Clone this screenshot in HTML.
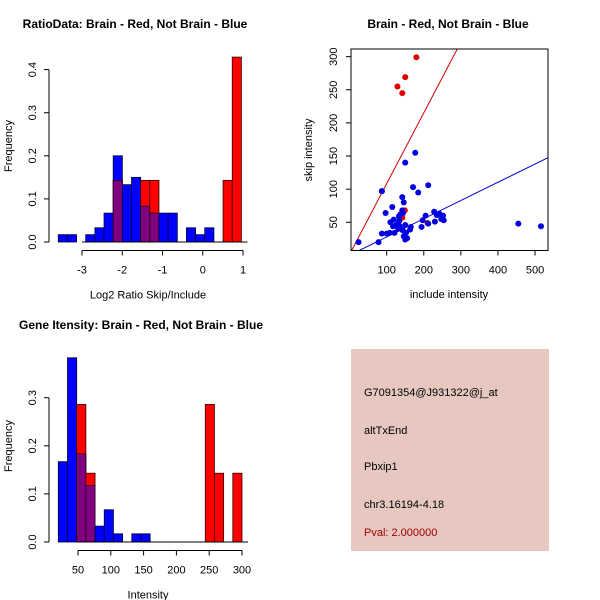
<!DOCTYPE html>
<html><head><meta charset="utf-8"><style>
body{margin:0;background:#fff}
svg{display:block;font-family:"Liberation Sans",sans-serif}
</style></head><body>
<svg id="svg" width="600" height="600" viewBox="0 0 600 600">
<rect width="600" height="600" fill="#fff"/>
<g id="p1"></g>
<g id="p2"></g>
<g id="p3"></g>
<g>
<rect x="351" y="349" width="198" height="202" fill="#e6c8c0"/>
<g font-size="11" fill="#000">
<text x="364" y="396">G7091354@J931322@j_at</text>
<text x="364" y="434">altTxEnd</text>
<text x="364" y="470">Pbxip1</text>
<text x="364" y="508">chr3.16194-4.18</text>
<text x="364" y="536" fill="#a00000">Pval: 2.000000</text>
</g></g>
</svg>
<script>
// ---- data: ratio histogram ----
const ratioBinStart = -3.59, ratioBinWidth = 0.2275;
const ratioBlue = [0.017,0.017,0,0.017,0.033,0.067,0.2,0.133,0.15,0.083,0.067,0.067,0.067,0,0.033,0.017,0.033,0,0,0];
const ratioRed  = [0,0,0,0,0,0,0.143,0,0,0.143,0.143,0,0,0,0,0,0,0,0.143,0.429];
const ratioXTicks = [-3,-2,-1,0,1];
const ratioYTicks = [0,0.1,0.2,0.3,0.4];
// ---- data: gene intensity histogram ----
const intBinStart = 20, intBinWidth = 14;
const intBlue = [0.167,0.383,0.183,0.117,0.033,0.067,0.017,0,0.017,0.017,0,0,0,0,0,0,0,0,0,0];
const intRed  = [0,0,0.286,0.143,0,0,0,0,0,0,0,0,0,0,0,0,0.286,0.143,0,0.143];
const intXTicks = [50,100,150,200,250,300];
const intYTicks = [0,0.1,0.2,0.3];
// ---- data: scatter ----
const redX = [180,150,129,142,149,142,210,87];
const redY = [299,269,255,245,68,57,49,97];
const blueX = [24,78,87,97,115,87,100,108,110,117,121,126,131,133,137,142,144,142,146,135,143,146,150,155,150,177,171,185,212,150,163,165,194,197,205,212,228,230,235,242,247,252,254,455,516,134,152,119];
const blueY = [20,20,97,64,73,33,33,34,50,44,34,46,40,59,62,68,64,88,80,44,38,29,24,26,140,155,103,95,106,46,39,43,43,53,60,48,66,51,61,63,55,60,53,48,44,52,34,54];
const redFit = [1.7,1.067];   // intercept, slope
const blueFit = [0.4,0.275];
const scXTicks = [100,200,300,400,500];
const scYTicks = [50,100,150,200,250,300];

const NS='http://www.w3.org/2000/svg';
function mk(parent,tag,attrs,text){const e=document.createElementNS(NS,tag);for(const k in attrs)e.setAttribute(k,attrs[k]);if(text!==undefined)e.textContent=text;parent.appendChild(e);return e;}

function hist(g,o){
  const sx=v=>o.x0px+(v-o.xv0)*o.xs, sy=v=>o.y0px-v*o.ys;
  const n=o.blue.length;
  for(let i=0;i<n;i++){
    const a=sx(o.bs+i*o.bw), b=sx(o.bs+(i+1)*o.bw);
    const bl=o.blue[i], rd=o.red[i], mn=Math.min(bl,rd);
    if(bl>0){const r=mk(g,'rect',{x:a,y:sy(bl),width:b-a,height:sy(0)-sy(bl),fill:'#0000ff',stroke:'#000033','stroke-width':0.8});
      
      }
    if(rd>0){const r=mk(g,'rect',{x:a,y:sy(rd),width:b-a,height:sy(0)-sy(rd),fill:'#ff0000',stroke:'#330000','stroke-width':0.8});
      
      }
    if(mn>0){const r=mk(g,'rect',{x:a,y:sy(mn),width:b-a,height:sy(0)-sy(mn),fill:'#800080',stroke:'#220022','stroke-width':0.8});
      
      }
  }
  mk(g,'line',{x1:o.x0px,x2:sx(o.bs+n*o.bw)+6,y1:sy(0),y2:sy(0),stroke:'#000'});
  const yt=o.yticks;
  mk(g,'line',{x1:o.yaxX,x2:o.yaxX,y1:sy(yt[0]),y2:sy(yt[yt.length-1]),stroke:'#000'});
  yt.forEach(v=>{mk(g,'line',{x1:o.yaxX-5,x2:o.yaxX,y1:sy(v),y2:sy(v),stroke:'#000'});
    const t=mk(g,'text',{x:o.yaxX-13,y:sy(v),'font-size':11,'text-anchor':'middle',transform:`rotate(-90 ${o.yaxX-13} ${sy(v)})`},v.toFixed(1));
    
    });
  const xt=o.xticks;
  mk(g,'line',{x1:sx(xt[0]),x2:sx(xt[xt.length-1]),y1:o.xaxY,y2:o.xaxY,stroke:'#000'});
  xt.forEach(v=>{mk(g,'line',{x1:sx(v),x2:sx(v),y1:o.xaxY,y2:o.xaxY+5,stroke:'#000'});
    const t=mk(g,'text',{x:sx(v),y:o.xaxY+23,'font-size':11,'text-anchor':'middle'},String(v));
    
    });
  const ti=mk(g,'text',{x:o.tx,y:o.ty,'font-size':12,'font-weight':'bold','text-anchor':'middle'},o.title);
  
  
  const xl=mk(g,'text',{x:o.xlx,y:o.xaxY+48,'font-size':11,'text-anchor':'middle'},o.xlab);
  
  
  const yl=mk(g,'text',{x:12,y:o.yly,'font-size':11,'text-anchor':'middle',transform:`rotate(-90 12 ${o.yly})`},'Frequency');
  
  
}

hist(document.getElementById('p1'),{x0px:82,xv0:-3,xs:40.25,y0px:242,ys:431,bs:ratioBinStart,bw:ratioBinWidth,
  blue:ratioBlue,red:ratioRed,yticks:ratioYTicks,xticks:ratioXTicks,yaxX:49,xaxY:250.5,
  title:'RatioData: Brain - Red, Not Brain - Blue',tx:135,ty:28,xlab:'Log2 Ratio Skip/Include',xlx:148,yly:146});
hist(document.getElementById('p3'),{x0px:78,xv0:50,xs:0.656,y0px:542,ys:481,bs:intBinStart,bw:intBinWidth,
  blue:intBlue,red:intRed,yticks:intYTicks,xticks:intXTicks,yaxX:49,xaxY:550.5,
  title:'Gene Itensity: Brain - Red, Not Brain - Blue',tx:141,ty:329,xlab:'Intensity',xlx:148,yly:446});

(function(){
  const g=document.getElementById('p2');
  const L=351,R=548,T=49,B=250.5;
  const sx=v=>386.7+(v-100)*0.3708, sy=v=>222.3-(v-50)*0.6627;
  const cp=mk(g,'clipPath',{id:'cl'});mk(cp,'rect',{x:L,y:T,width:R-L,height:B-T});
  const pts=mk(g,'g',{'clip-path':'url(#cl)'});
  [[redFit,'#cc0000','red-fit-line'],[blueFit,'#0000cc','blue-fit-line']].forEach(([f,c,n])=>{
    const l=mk(pts,'line',{x1:sx(0),y1:sy(f[0]),x2:sx(600),y2:sy(f[0]+f[1]*600),stroke:c,'stroke-width':1});
    
    });
  redX.forEach((x,i)=>{const c=mk(pts,'circle',{cx:sx(x),cy:sy(redY[i]),r:3,fill:'#e00000'});
    
    });
  blueX.forEach((x,i)=>{const c=mk(pts,'circle',{cx:sx(x),cy:sy(blueY[i]),r:3,fill:'#0000e0'});
    
    });
  mk(g,'rect',{x:L,y:T,width:R-L,height:B-T,fill:'none',stroke:'#000'});
  scXTicks.forEach(v=>{mk(g,'line',{x1:sx(v),x2:sx(v),y1:B,y2:B+5,stroke:'#000'});
    const t=mk(g,'text',{x:sx(v),y:B+23,'font-size':11,'text-anchor':'middle'},String(v));
    
    });
  scYTicks.forEach(v=>{mk(g,'line',{x1:L-5,x2:L,y1:sy(v),y2:sy(v),stroke:'#000'});
    const t=mk(g,'text',{x:L-14,y:sy(v),'font-size':11,'text-anchor':'middle',transform:`rotate(-90 ${L-14} ${sy(v)})`},String(v));
    
    });
  const ti=mk(g,'text',{x:448,y:28,'font-size':12,'font-weight':'bold','text-anchor':'middle'},'Brain - Red, Not Brain - Blue');
  
  
  const xl=mk(g,'text',{x:449,y:298,'font-size':11,'text-anchor':'middle'},'include intensity');
  
  
  const yl=mk(g,'text',{x:312,y:150,'font-size':11,'text-anchor':'middle',transform:'rotate(-90 312 150)'},'skip intensity');
  
  
})();
</script>
</body></html>
